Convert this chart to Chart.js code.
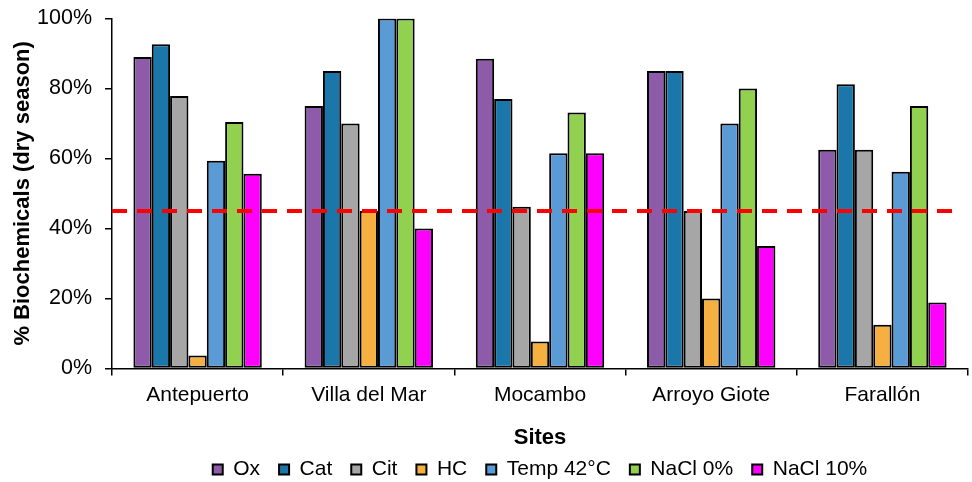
<!DOCTYPE html>
<html>
<head>
<meta charset="utf-8">
<script src="https://cdn.jsdelivr.net/npm/chart.js@4.4.1/dist/chart.umd.min.js"></script>
<style>
  html, body { margin: 0; padding: 0; background: #fff; }
  #wrap { width: 972px; height: 482px; }
</style>
</head>
<body>
<div id="wrap"><canvas id="bioChart" width="972" height="482"></canvas></div>
<script>
const sites = ['Antepuerto', 'Villa del Mar', 'Mocambo', 'Arroyo Giote', 'Farallón'];
const yTicks = [0, 20, 40, 60, 80, 100];
const threshold = 45;

const ox = [89.0, 75.0, 88.5, 85.0, 62.5];
const cat = [92.6, 85.0, 77.0, 85.0, 81.2];
const cit = [77.8, 70.0, 46.2, 45.0, 62.5];
const hc = [3.7, 45.0, 7.7, 20.0, 12.5];
const temp42 = [59.3, 100, 61.5, 70.0, 56.2];
const nacl0 = [70.4, 100, 73.1, 80.0, 75.0];
const nacl10 = [55.6, 40.0, 61.5, 35.0, 18.8];

const font = "'Liberation Sans', Arial, Helvetica, sans-serif";

function series(label, data, color) {
  return {
    label: label,
    data: data,
    backgroundColor: color,
    borderColor: '#000',
    borderWidth: 2,
    borderSkipped: false,
    categoryPercentage: 0.75,
    barPercentage: 1.0
  };
}

// dashed reference line at the threshold value
const thresholdLine = {
  id: 'thresholdLine',
  afterDatasetsDraw(chart) {
    const ctx = chart.ctx;
    const y = chart.scales.y.getPixelForValue(threshold);
    const area = chart.chartArea;
    ctx.save();
    ctx.strokeStyle = '#ff0000';
    ctx.lineWidth = 4;
    ctx.setLineDash([15, 10]);
    ctx.beginPath();
    ctx.moveTo(area.left, y);
    ctx.lineTo(area.right - 10, y);
    ctx.stroke();
    ctx.restore();
  }
};

// centre the legend under the plot area instead of the whole canvas
const legendShift = {
  id: 'legendShift',
  afterLayout(chart) {
    const lg = chart.legend;
    const area = chart.chartArea;
    const shift = (area.left + area.right) / 2 - (lg.left + lg.right) / 2;
    lg.left += shift;
    lg.right += shift;
  }
};

const ctx = document.getElementById('bioChart').getContext('2d');

new Chart(ctx, {
  type: 'bar',
  data: {
    labels: sites,
    datasets: [
      series('Ox', ox, '#8e5baa'),
      series('Cat', cat, '#1b77a9'),
      series('Cit', cit, '#a6a6a6'),
      series('HC', hc, '#f5b041'),
      series('Temp 42°C', temp42, '#5b9bd5'),
      series('NaCl 0%', nacl0, '#92d050'),
      series('NaCl 10%', nacl10, '#ff00ff')
    ]
  },
  options: {
    responsive: false,
    animation: false,
    layout: { padding: { top: 4, right: 4, left: 10, bottom: -8 } },
    scales: {
      x: {
        grid: {
          display: true,
          drawOnChartArea: false,
          tickLength: 7,
          color: '#000',
          lineWidth: 1.5
        },
        border: { color: '#000', width: 1.5 },
        ticks: { color: '#000', font: { family: font, size: 21 }, padding: 7 },
        title: {
          display: true,
          text: 'Sites',
          color: '#000',
          font: { family: font, size: 22, weight: 'bold' },
          padding: { top: 10, bottom: -11 }
        }
      },
      y: {
        min: 0,
        max: 100,
        afterBuildTicks(axis) {
          axis.ticks = yTicks.map(v => ({ value: v }));
        },
        afterFit(axis) {
          axis.width = 102;
        },
        grid: {
          display: true,
          drawOnChartArea: false,
          tickLength: 7,
          color: '#000',
          lineWidth: 1.5
        },
        border: { color: '#000', width: 1.5 },
        ticks: {
          color: '#000',
          font: { family: font, size: 21.5, lineHeight: 0.5 },
          padding: 13,
          callback: v => v + '%'
        },
        title: {
          display: true,
          text: '% Biochemicals (dry season)',
          color: '#000',
          font: { family: font, size: 22, weight: 'bold' },
          padding: { top: 0, bottom: 0 }
        }
      }
    },
    plugins: {
      legend: {
        position: 'bottom',
        labels: {
          color: '#000',
          font: { family: font, size: 21 },
          boxWidth: 10,
          boxHeight: 10,
          padding: 19
        }
      },
      tooltip: { enabled: false }
    }
  },
  plugins: [thresholdLine, legendShift]
});
</script>
</body>
</html>
